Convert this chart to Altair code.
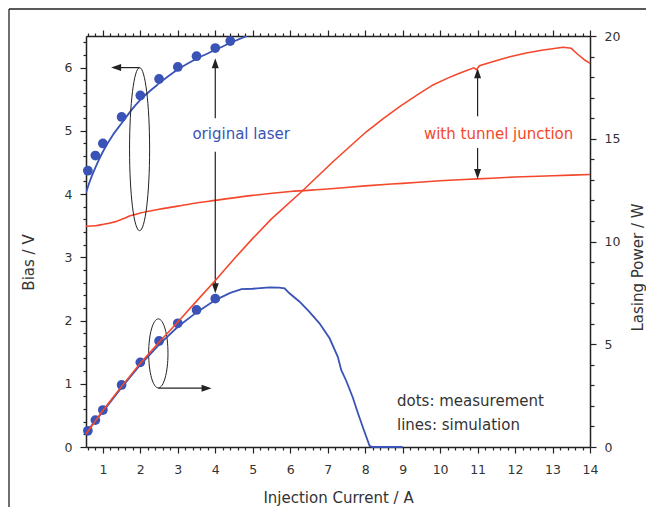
import altair as alt
import pandas as pd

# ---------------- data ----------------
# measurements (dots)
meas_i_bias = [0.6, 0.8, 1.0, 1.5, 2.0, 2.5, 3.0, 3.5, 4.0, 4.4]
meas_bias = [4.37, 4.61, 4.80, 5.22, 5.56, 5.82, 6.01, 6.18, 6.31, 6.42]
meas_i_pow = [0.6, 0.8, 1.0, 1.5, 2.0, 2.5, 3.0, 3.5, 4.0]
meas_pow = [0.79, 1.31, 1.80, 3.02, 4.12, 5.16, 6.02, 6.67, 7.22]

# simulation, original laser
orig_bias_i = [0.55, 0.65, 0.8, 1.0, 1.25, 1.5, 1.75, 2.0, 2.5, 3.0, 3.5, 4.0, 4.4, 4.85]
orig_bias_v = [4.02, 4.20, 4.42, 4.67, 4.92, 5.12, 5.32, 5.49, 5.75, 5.97, 6.14, 6.28, 6.39, 6.50]
orig_pow_i = [0.55, 1.0, 1.5, 2.0, 2.5, 3.0, 3.5, 4.0, 4.4, 4.7, 5.0, 5.45, 5.7, 5.85,
              5.98, 6.25, 6.5, 6.78, 7.05, 7.27, 7.36, 7.5, 7.67, 7.81, 7.95, 8.12, 8.2, 9.0]
orig_pow_w = [0.70, 1.72, 2.90, 4.00, 4.98, 5.85, 6.55, 7.15, 7.50, 7.68, 7.70, 7.77, 7.76, 7.72,
              7.48, 7.07, 6.60, 6.02, 5.29, 4.39, 3.75, 3.20, 2.41, 1.63, 0.90, 0.05, 0.0, 0.0]

# simulation, with tunnel junction
tj_bias_i = [0.55, 0.8, 1.0, 1.25, 1.5, 1.75, 2.0, 2.5, 3.0, 3.5, 4.0, 5.0, 6.0, 7.0,
             8.0, 9.0, 10.0, 11.0, 12.0, 13.0, 14.0]
tj_bias_v = [3.49, 3.50, 3.52, 3.55, 3.60, 3.66, 3.70, 3.76, 3.81, 3.86, 3.90, 3.98, 4.04, 4.08,
             4.13, 4.17, 4.21, 4.24, 4.27, 4.29, 4.31]
tj_pow_i = [0.55, 1.0, 1.5, 2.0, 2.5, 3.0, 3.5, 4.0, 4.5, 5.0, 5.5, 6.3, 7.14, 8.03, 8.5,
            8.92, 9.4, 9.81, 10.2, 10.5, 10.9, 10.97, 11.05, 11.4, 11.86, 12.3, 12.75, 13.0,
            13.28, 13.5, 13.64, 13.86, 14.0]
tj_pow_w = [0.63, 1.78, 2.95, 4.07, 5.10, 6.08, 7.10, 8.10, 9.15, 10.15, 11.10, 12.42, 13.88,
            15.34, 16.0, 16.56, 17.15, 17.62, 17.95, 18.18, 18.45, 18.36, 18.55, 18.75, 18.99,
            19.17, 19.32, 19.38, 19.45, 19.40, 19.16, 18.83, 18.67]

# axis ticks
x_ticks = [round(0.6 + 0.2 * i, 1) for i in range(68)]
yl_ticks = [round(0.2 * i, 1) for i in range(33)]
yr_ticks = list(range(21))

BLUE = "#3953b7"
RED = "#f4472b"
INK = "#222222"
FONT = "DejaVu Sans"

is_int = "abs(datum.value - round(datum.value)) < 0.001"
is_five = "abs(datum.value % 5) < 0.001"


def tsize(test, major, minor):
    return {"condition": {"test": test, "value": major}, "value": minor}


base_axis = dict(domainColor=INK, domainWidth=1.5, tickColor=INK, tickWidth=1.2,
                 labelFont=FONT, labelFontSize=12.5, labelColor="#333333",
                 titleFont=FONT, titleFontSize=15, titleColor="#333333", titleFontWeight="normal",
                 grid=False, labelOverlap=False, labelFlush=False)

xs = alt.Scale(domain=[0.55, 14], nice=False, zero=False)
yls = alt.Scale(domain=[0, 6.5], nice=False, zero=False)
yrs = alt.Scale(domain=[0, 20], nice=False, zero=False)

ax_bottom = alt.Axis(values=x_ticks, orient="bottom", title="Injection Current / A",
                     labelExpr=f"{is_int} ? format(datum.value, 'd') : ''",
                     tickSize=tsize(is_int, 6, 3), labelPadding=10,
                     titleX=252, titleY=50, titleBaseline="middle", titleAlign="center",
                     **base_axis)
ax_top = alt.Axis(values=x_ticks, orient="top", title=None, labels=False,
                  tickSize=tsize(is_int, 6, 3), **base_axis)
ax_left = alt.Axis(values=yl_ticks, orient="left", title="Bias / V",
                   labelExpr=f"{is_int} ? format(datum.value, 'd') : ''",
                   tickSize=tsize(is_int, 6, 3), labelPadding=8,
                   titleX=-58, titleY=226, titleAngle=270, titleBaseline="middle",
                   titleAlign="center", **base_axis)
ax_right = alt.Axis(values=yr_ticks, orient="right", title="Lasing Power / W",
                    labelExpr=f"{is_five} ? format(datum.value, 'd') : ''",
                    tickSize=tsize(is_five, 6, 4), labelPadding=8,
                    titleX=47, titleY=231, titleAngle=270, titleBaseline="middle",
                    titleAlign="center", **base_axis)

XA = alt.X("x:Q", scale=xs, axis=ax_bottom)
YA = alt.Y("y:Q", scale=yls, axis=ax_left)
XB = alt.X("x:Q", scale=xs, axis=ax_top)
YB = alt.Y("y:Q", scale=yrs, axis=ax_right)


def df(x, y):
    return pd.DataFrame({"x": x, "y": y})


one = pd.DataFrame({"k": [0]})

# ---------- layer A: bias (left axis) ----------
frame_left = alt.Chart(one).mark_rule(color=INK, strokeWidth=1.3).encode(
    x=alt.value(-77), y=alt.value(-27), y2=alt.value(520))
frame_top = alt.Chart(one).mark_rule(color=INK, strokeWidth=1.3).encode(
    x=alt.value(-77), x2=alt.value(600), y=alt.value(-27))

tj_bias_line = alt.Chart(df(tj_bias_i, tj_bias_v)).mark_line(
    color=RED, strokeWidth=1.6, interpolate="monotone").encode(x=XA, y=YA)
orig_bias_line = alt.Chart(df(orig_bias_i, orig_bias_v)).mark_line(
    color=BLUE, strokeWidth=1.8, clip=True, interpolate="monotone").encode(x=XA, y=YA)
bias_dots = alt.Chart(df(meas_i_bias, meas_bias)).mark_circle(
    color=BLUE, size=95, opacity=1).encode(x=XA, y=YA)

# annotation geometry (data units of the bias axis)
arrow_v = pd.DataFrame({
    "x": [4.0, 4.0, 11.0, 11.0],
    "y": [5.20, 4.67, 5.23, 4.73],
    "y2": [6.10, 2.50, 5.92, 4.31],
})
arrow_v_rules = alt.Chart(arrow_v).mark_rule(color=INK, strokeWidth=1.2).encode(
    x=XA, y=YA, y2="y2:Q")
heads_up = alt.Chart(df([4.0, 11.0], [6.15, 5.99])).mark_point(
    shape="M0,0 L-0.35,1 L0.35,1 Z", size=400, filled=True, color=INK, opacity=1
).encode(x=XA, y=YA)
heads_down = alt.Chart(df([4.0, 11.0], [2.43, 4.24])).mark_point(
    shape="M0,0 L-0.35,-1 L0.35,-1 Z", size=400, filled=True, color=INK, opacity=1
).encode(x=XA, y=YA)

arrow_h = pd.DataFrame({"x": [1.98, 2.48], "x2": [1.30, 3.80], "y": [6.0, 0.93]})
arrow_h_rules = alt.Chart(arrow_h).mark_rule(color=INK, strokeWidth=1.2).encode(
    x=XA, x2="x2:Q", y=YA)
head_left = alt.Chart(df([1.22], [6.0])).mark_point(
    shape="M0,0 L1,-0.35 L1,0.35 Z", size=400, filled=True, color=INK, opacity=1
).encode(x=XA, y=YA)
head_right = alt.Chart(df([3.9], [0.93])).mark_point(
    shape="M0,0 L-1,-0.35 L-1,0.35 Z", size=400, filled=True, color=INK, opacity=1
).encode(x=XA, y=YA)


def ellipse_path(w):
    k = 0.5523
    return (f"M0,-1 C{k*w:.4f},-1 {w:.4f},{-k:.4f} {w:.4f},0 "
            f"C{w:.4f},{k:.4f} {k*w:.4f},1 0,1 "
            f"C{-k*w:.4f},1 {-w:.4f},{k:.4f} {-w:.4f},0 "
            f"C{-w:.4f},{-k:.4f} {-k*w:.4f},-1 0,-1 Z")


ell_big = alt.Chart(df([1.98], [4.71])).mark_point(
    shape=ellipse_path(0.123), size=163 ** 2, filled=False, color=INK, strokeWidth=1.0,
    opacity=1).encode(x=XA, y=YA)
ell_small = alt.Chart(df([2.48], [1.48])).mark_point(
    shape=ellipse_path(0.28), size=69 ** 2, filled=False, color=INK, strokeWidth=1.0,
    opacity=1).encode(x=XA, y=YA)

labels_center = pd.DataFrame({
    "x": [4.69, 11.56], "y": [4.95, 4.95],
    "t": ["original laser", "with tunnel junction"], "c": [BLUE, RED]})
txt_center = alt.Chart(labels_center).mark_text(
    font=FONT, fontSize=15, align="center", baseline="middle"
).encode(x=XA, y=YA, text="t:N", color=alt.Color("c:N", scale=None))

legend_txt = pd.DataFrame({"x": [8.85, 8.85], "y": [0.72, 0.35],
                           "t": ["dots: measurement", "lines: simulation"]})
txt_legend = alt.Chart(legend_txt).mark_text(
    font=FONT, fontSize=15, align="left", baseline="middle", color="#333333"
).encode(x=XA, y=YA, text="t:N")

layer_a = alt.layer(frame_left, frame_top, tj_bias_line, orig_bias_line, bias_dots,
                    arrow_v_rules, heads_up, heads_down, arrow_h_rules, head_left, head_right,
                    ell_big, ell_small, txt_center, txt_legend)

# ---------- layer B: power (right axis) ----------
orig_pow_line = alt.Chart(df(orig_pow_i, orig_pow_w)).mark_line(
    color=BLUE, strokeWidth=1.8).encode(x=XB, y=YB)
pow_dots = alt.Chart(df(meas_i_pow, meas_pow)).mark_circle(
    color=BLUE, size=95, opacity=1).encode(x=XB, y=YB)
tj_pow_line = alt.Chart(df(tj_pow_i, tj_pow_w)).mark_line(
    color=RED, strokeWidth=1.6).encode(x=XB, y=YB)

layer_b = alt.layer(orig_pow_line, pow_dots, tj_pow_line)

chart = alt.layer(layer_a, layer_b).resolve_scale(
    x="independent", y="independent"
).properties(
    width=504, height=411,
    padding={"left": 78, "top": 28, "right": 56, "bottom": 60},
    autosize=alt.AutoSizeParams(type="none"),
    background="white",
).configure_view(stroke=None)

chart.save("out.html", embed_options={"renderer": "svg", "actions": False})
